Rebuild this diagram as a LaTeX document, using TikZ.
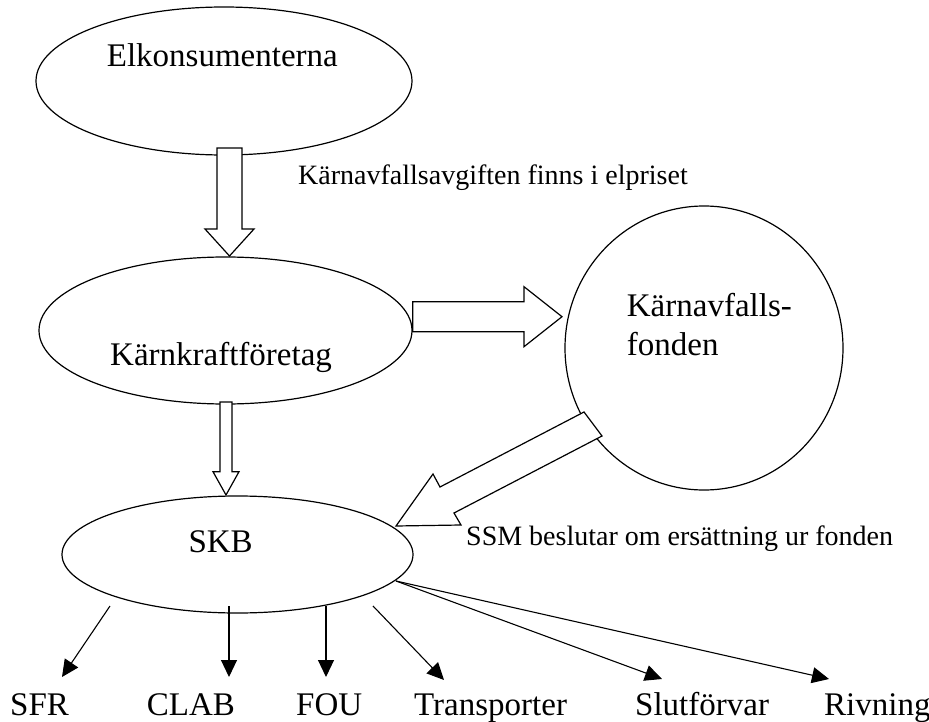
\documentclass[tikz,border=0pt]{standalone}
\usepackage{fontspec}
\setmainfont{Liberation Serif}
\usetikzlibrary{shapes.geometric,arrows.meta}
\begin{document}
\begin{tikzpicture}[x=1pt,y=-1pt,
  oval/.style={draw,ellipse,line width=1.2pt,fill=white,inner sep=0pt},
  blockarrow/.style={draw,fill=white,line width=1.2pt,line join=miter},
  bigtext/.style={font=\fontsize{33}{38}\selectfont,inner sep=0pt,anchor=base west},
  smalltext/.style={font=\fontsize{28}{32}\selectfont,inner sep=0pt,anchor=base west},
  thinarrow/.style={line width=1.1pt,-{Triangle[length=17pt,width=16pt]}}]
\useasboundingbox (0,0) rectangle (929,722);
% shapes
\node[oval,minimum width=376pt,minimum height=148pt] (elk) at (224,81) {};
\node[oval,minimum width=373pt,minimum height=147pt] (kk) at (225.5,330.5) {};
\node[oval,minimum width=351pt,minimum height=117pt] (skb) at (237.5,554.5) {};
\node[oval,minimum width=278pt,minimum height=284pt] (fond) at (704,348) {};
% block arrows
\draw[blockarrow] (217,148) -- (242,148) -- (242,229) -- (254,229) -- (229.5,256) -- (205,229) -- (217,229) -- cycle;
\draw[blockarrow] (220,402) -- (232,402) -- (232,471.7) -- (239,471.7) -- (226,495) -- (213,471.7) -- (220,471.7) -- cycle;
\draw[blockarrow] (412.7,301.7) -- (524,301.7) -- (524,286.7) -- (562,316.7) -- (524,346.7) -- (524,331.7) -- (412.7,331.7) -- cycle;
\draw[blockarrow] (584,412) -- (440,487) -- (433,474) -- (396,526) -- (461,525) -- (454,513) -- (602,436) -- cycle;
% texts
\node[bigtext] (telk) at (106.7,67) {Elkonsumenterna};
\node[bigtext] (tkk) at (110,365) {Kärnkraftföretag};
\node[bigtext] (tf1) at (626.7,316.7) {Kärnavfalls-};
\node[bigtext] (tf2) at (626.7,355) {fonden};
\node[bigtext] (tskb) at (188.3,552) {SKB};
\node[smalltext] (l1) at (298,185) {Kärnavfallsavgiften finns i elpriset};
\node[smalltext] (l2) at (466,545) {SSM beslutar om ersättning ur fonden};
% bottom labels
\node[bigtext] (sfr) at (10,715) {SFR};
\node[bigtext] (clab) at (146.7,715) {CLAB};
\node[bigtext] (fou) at (296,715) {FOU};
\node[bigtext] (tra) at (414,715) {Transporter};
\node[bigtext] (slu) at (635,715) {Slutförvar};
\node[bigtext] (riv) at (824,715) {Rivning};
% thin arrows
\coordinate (s1) at (110,606);   \coordinate (e1) at (62,677);
\coordinate (s2) at (229,606);   \coordinate (e2) at (229,677);
\coordinate (s3) at (326,606);   \coordinate (e3) at (326,677);
\coordinate (s4) at (373,606);   \coordinate (e4) at (444,680);
\coordinate (s5) at (396,581);   \coordinate (e5) at (662,679);
\coordinate (e6) at (829,679);
\draw[thinarrow] (s1) -- (e1);
\draw[thinarrow] (s2) -- (e2);
\draw[thinarrow] (s3) -- (e3);
\draw[thinarrow] (s4) -- (e4);
\draw[thinarrow] (s5) -- (e5);
\draw[thinarrow] (s5) -- (e6);
\end{tikzpicture}
\end{document}
